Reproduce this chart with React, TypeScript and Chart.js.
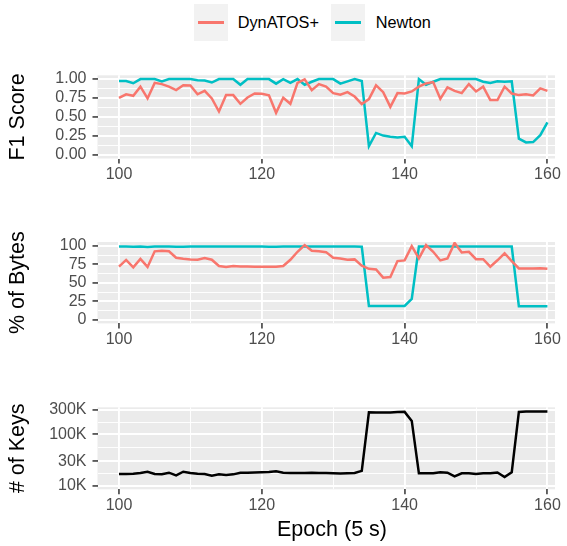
import React, { useEffect, useRef } from 'react';
import { Chart, registerables } from 'chart.js';

Chart.register(...registerables);

const FONT = '"Liberation Sans", Arial, Helvetica, sans-serif';

const EPOCHS = [
  100, 101, 102, 103, 104, 105, 106, 107, 108, 109,
  110, 111, 112, 113, 114, 115, 116, 117, 118, 119,
  120, 121, 122, 123, 124, 125, 126, 127, 128, 129,
  130, 131, 132, 133, 134, 135, 136, 137, 138, 139,
  140, 141, 142, 143, 144, 145, 146, 147, 148, 149,
  150, 151, 152, 153, 154, 155, 156, 157, 158, 159, 160,
];

const SERIES_NAMES = ['DynATOS+', 'Newton'];
const SERIES_COLORS = ['#F8766D', '#00BFC4'];

const F1_DYNATOS = [
  0.753, 0.8, 0.78, 0.9, 0.745, 0.95, 0.934, 0.9, 0.855, 0.92,
  0.915, 0.8, 0.845, 0.745, 0.573, 0.789, 0.789, 0.674, 0.758, 0.81,
  0.806, 0.785, 0.555, 0.753, 0.674, 0.95, 0.996, 0.855, 0.934, 0.9,
  0.815, 0.793, 0.828, 0.77, 0.67, 0.736, 0.917, 0.828, 0.634, 0.815,
  0.81, 0.837, 0.9, 0.943, 0.96, 0.74, 0.89, 0.845, 0.815, 0.934,
  0.837, 0.9, 0.723, 0.723, 0.9, 0.81, 0.789, 0.8, 0.785, 0.877, 0.845,
];

const F1_NEWTON = [
  0.975, 0.975, 0.945, 1.0, 1.0, 1.0, 0.97, 1.0, 1.0, 1.0,
  1.0, 0.985, 0.98, 0.955, 1.0, 1.0, 1.0, 0.925, 1.0, 1.0,
  1.0, 1.0, 0.94, 1.0, 0.95, 1.0, 0.925, 0.965, 1.0, 1.0,
  1.0, 0.94, 0.97, 1.0, 0.975, 0.115, 0.29, 0.255, 0.24, 0.23,
  0.24, 0.115, 1.0, 0.925, 0.965, 1.0, 1.0, 1.0, 1.0, 1.0,
  1.0, 0.965, 0.95, 0.97, 0.965, 0.97, 0.215, 0.165, 0.17, 0.26, 0.428,
];

const BYTES_DYNATOS = [
  71.8, 81.0, 70.9, 82.3, 71.5, 92.6, 93.3, 92.6, 83.9, 82.5,
  81.7, 81.2, 83.4, 81.2, 72.7, 71.3, 72.7, 72.2, 72.2, 71.8,
  71.8, 71.8, 71.8, 72.7, 81.2, 92.0, 101.0, 93.3, 92.8, 91.5,
  83.9, 83.0, 81.2, 81.7, 73.1, 69.0, 68.2, 57.0, 57.8, 79.4,
  80.3, 99.6, 83.0, 101.0, 92.0, 80.3, 83.0, 104.0, 91.0, 92.0,
  82.0, 82.0, 71.8, 80.5, 90.0, 79.4, 69.5, 69.5, 69.5, 69.8, 69.0,
];

const BYTES_NEWTON = [
  99.2, 99.0, 98.8, 99.0, 98.6, 99.0, 99.0, 99.0, 98.8, 98.8,
  99.0, 99.0, 99.2, 99.2, 99.0, 99.0, 99.2, 99.2, 99.0, 99.0,
  99.0, 98.8, 98.8, 99.0, 99.0, 99.2, 99.2, 99.0, 99.2, 99.2,
  99.0, 99.0, 99.0, 99.0, 98.8, 18.8, 18.8, 18.8, 18.8, 18.8,
  18.8, 28.3, 99.0, 99.0, 99.0, 99.0, 99.0, 99.0, 99.0, 99.0,
  99.0, 99.0, 99.0, 99.0, 99.0, 99.0, 18.5, 18.5, 18.5, 18.5, 18.5,
];

const KEYS = [
  16900, 16900, 17100, 17700, 18700, 16900, 16700, 17900, 15900, 18700,
  17700, 17000, 16900, 15600, 16600, 16200, 16600, 17900, 17900, 18100,
  18200, 18400, 19000, 17900, 17700, 17700, 17700, 17900, 17700, 17700,
  17400, 17200, 17400, 17600, 19400, 268000, 264000, 264000, 264000, 270000,
  273000, 182000, 17400, 17400, 17400, 18200, 17900, 15200, 17400, 17400,
  16900, 17400, 17400, 18000, 14700, 18200, 272000, 276000, 278000, 278000, 278000,
];

const X_TICKS = [100, 110, 120, 130, 140, 150, 160];
const X_MAJOR = [100, 120, 140, 160];
const X_TITLE = 'Epoch (5 s)';

const F1_TICKS = [0, 0.125, 0.25, 0.375, 0.5, 0.625, 0.75, 0.875, 1];
const F1_MAJOR = [0, 0.25, 0.5, 0.75, 1];
const BYTES_TICKS = [0, 12.5, 25, 37.5, 50, 62.5, 75, 87.5, 100];
const BYTES_MAJOR = [0, 25, 50, 75, 100];
const KEYS_TICKS = [10000, 17320.5, 30000, 54772.3, 100000, 173205, 300000];
const KEYS_MAJOR = [10000, 30000, 100000, 300000];
const KEYS_LABELS = ['10K', '30K', '100K', '300K'];

const panelBg = {
  id: 'panelBg',
  beforeDraw(chart: any) {
    const { ctx, chartArea } = chart;
    ctx.save();
    ctx.fillStyle = '#EBEBEB';
    ctx.fillRect(chartArea.left, chartArea.top, chartArea.width, chartArea.height);
    ctx.restore();
  },
};

// x-axis title drawn slightly right of the panel centre, as in the reference
const xTitlePlugin = {
  id: 'xTitle',
  afterDraw(chart: any, _args: any, opts: any) {
    if (!opts || !opts.text) return;
    const { ctx, height } = chart;
    ctx.save();
    ctx.fillStyle = '#000000';
    ctx.font = `21.5px ${FONT}`;
    ctx.textAlign = 'center';
    ctx.textBaseline = 'middle';
    ctx.fillText(opts.text, opts.cx, height - opts.fromBottom);
    ctx.restore();
  },
};

function makeChart(
  canvas: HTMLCanvasElement,
  cfg: {
    datasets: any[];
    yType: 'linear' | 'logarithmic';
    yMin: number;
    yMax: number;
    yTicks: number[];
    yMajor: number[];
    yLabel: (v: number) => string;
    yTitle: string;
    padTop: number;
    xHeight: number;
    xTitle?: string;
  }
) {
  const isMajorX = (c: any) => !!c.tick && X_MAJOR.includes(c.tick.value);
  const isMajorY = (c: any) => !!c.tick && cfg.yMajor.includes(c.tick.value);
  return new Chart(canvas, {
    type: 'line',
    data: { datasets: cfg.datasets },
    plugins: [panelBg, xTitlePlugin],
    options: {
      animation: false,
      responsive: false,
      maintainAspectRatio: false,
      events: [],
      layout: { padding: { top: cfg.padTop, right: 12, left: 0, bottom: 0 } },
      plugins: {
        legend: { display: false },
        tooltip: { enabled: false },
        xTitle: { text: cfg.xTitle || '', cx: 332, fromBottom: 15.5 },
      },
      elements: { point: { radius: 0 }, line: { tension: 0 } },
      scales: {
        x: {
          type: 'linear',
          min: 96.99,
          max: 161.06,
          bounds: 'data',
          afterBuildTicks: (s: any) => {
            s.ticks = X_TICKS.map((v) => ({ value: v }));
          },
          afterFit: (s: any) => {
            s.height = cfg.xHeight;
          },
          border: { display: false },
          grid: {
            color: '#FFFFFF',
            lineWidth: (c: any) => (isMajorX(c) ? 1.9 : 0.95),
            tickLength: 5,
            tickColor: (c: any) => (isMajorX(c) ? '#333333' : 'rgba(0,0,0,0)'),
            tickWidth: 1.5,
          },
          ticks: {
            autoSkip: false,
            maxRotation: 0,
            padding: 1.5,
            color: '#4D4D4D',
            font: { family: FONT, size: 16 },
            callback: (v: any) => (X_MAJOR.includes(v) ? String(v) : ''),
          },
          title: { display: false },
        },
        y: {
          type: cfg.yType,
          min: cfg.yMin,
          max: cfg.yMax,
          bounds: 'data',
          afterBuildTicks: (s: any) => {
            s.ticks = cfg.yTicks.map((v) => ({ value: v }));
          },
          afterFit: (s: any) => {
            s.width = 97.5;
          },
          border: { display: false },
          grid: {
            color: '#FFFFFF',
            lineWidth: (c: any) => (isMajorY(c) ? 1.9 : 0.95),
            tickLength: 5,
            tickColor: (c: any) => (isMajorY(c) ? '#333333' : 'rgba(0,0,0,0)'),
            tickWidth: 1.5,
          },
          ticks: {
            autoSkip: false,
            padding: 6,
            color: '#4D4D4D',
            font: { family: FONT, size: 16 },
            callback: (v: any) => (cfg.yMajor.includes(v) ? cfg.yLabel(v) : ''),
          },
          title: {
            display: true,
            text: cfg.yTitle,
            color: '#000000',
            font: { family: FONT, size: 21.5 },
            padding: { top: 5.6, bottom: 0 },
          },
        } as any,
      },
    } as any,
  });
}

function series(values: number[], color: string) {
  return {
    data: EPOCHS.map((e, i) => ({ x: e, y: values[i] })),
    borderColor: color,
    borderWidth: 2.5,
    fill: false,
    pointRadius: 0,
  };
}

export default function App() {
  const r1 = useRef<HTMLCanvasElement>(null);
  const r2 = useRef<HTMLCanvasElement>(null);
  const r3 = useRef<HTMLCanvasElement>(null);

  useEffect(() => {
    const c1 = makeChart(r1.current!, {
      datasets: [series(F1_DYNATOS, SERIES_COLORS[0]), series(F1_NEWTON, SERIES_COLORS[1])],
      yType: 'linear',
      yMin: -0.047,
      yMax: 1.05,
      yTicks: F1_TICKS,
      yMajor: F1_MAJOR,
      yLabel: (v) => v.toFixed(2),
      yTitle: 'F1 Score',
      padTop: 25.3,
      xHeight: 31.5,
    });
    const c2 = makeChart(r2.current!, {
      datasets: [series(BYTES_DYNATOS, SERIES_COLORS[0]), series(BYTES_NEWTON, SERIES_COLORS[1])],
      yType: 'linear',
      yMin: -4.8,
      yMax: 105.2,
      yTicks: BYTES_TICKS,
      yMajor: BYTES_MAJOR,
      yLabel: (v) => String(v),
      yTitle: '% of Bytes',
      padTop: 27,
      xHeight: 31.6,
    });
    const c3 = makeChart(r3.current!, {
      datasets: [series(KEYS, '#000000')],
      yType: 'logarithmic',
      yMin: 8500,
      yMax: 335000,
      yTicks: KEYS_TICKS,
      yMajor: KEYS_MAJOR,
      yLabel: (v) => KEYS_LABELS[KEYS_MAJOR.indexOf(v)],
      yTitle: '# of Keys',
      padTop: 27.3,
      xHeight: 56.7,
      xTitle: X_TITLE,
    });
    return () => {
      c1.destroy();
      c2.destroy();
      c3.destroy();
    };
  }, []);

  const legendText: React.CSSProperties = {
    position: 'absolute',
    top: 12.9,
    fontFamily: FONT,
    fontSize: 16.3,
    lineHeight: '18px',
    color: '#000000',
    whiteSpace: 'nowrap',
  };
  const keyBox = (left: number, color: string) => (
    <div style={{ position: 'absolute', left, top: 4, width: 34, height: 37, background: '#F2F2F2' }}>
      <div style={{ position: 'absolute', left: 4, width: 26, top: 17.45, height: 2.5, background: color }} />
    </div>
  );

  return (
    <div style={{ position: 'absolute', left: 0, top: 0, width: 567, height: 546, background: '#FFFFFF', overflow: 'hidden' }}>
      {keyBox(194, SERIES_COLORS[0])}
      <span style={{ ...legendText, left: 237.7 }}>{SERIES_NAMES[0]}</span>
      {keyBox(331, SERIES_COLORS[1])}
      <span style={{ ...legendText, left: 375.7 }}>{SERIES_NAMES[1]}</span>
      <canvas ref={r1} width={567} height={140} style={{ position: 'absolute', left: 0, top: 50, display: 'block' }} />
      <canvas ref={r2} width={567} height={140} style={{ position: 'absolute', left: 0, top: 215, display: 'block' }} />
      <canvas ref={r3} width={567} height={166} style={{ position: 'absolute', left: 0, top: 380, display: 'block' }} />
    </div>
  );
}
